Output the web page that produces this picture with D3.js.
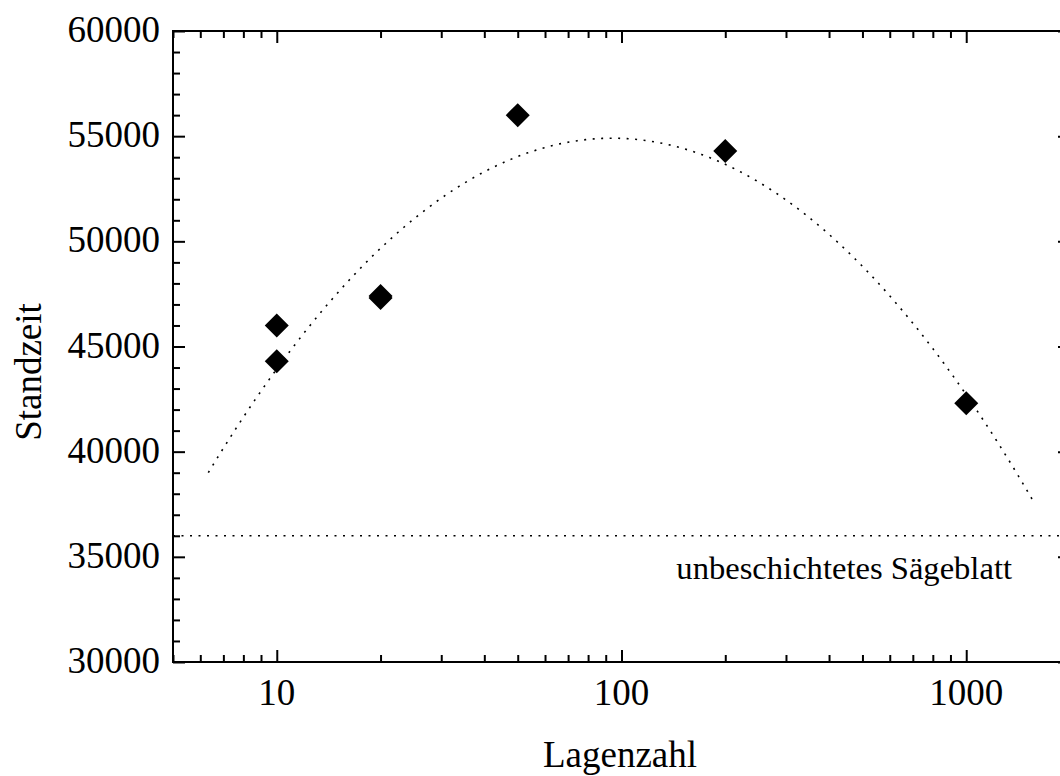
<!DOCTYPE html>
<html>
<head>
<meta charset="utf-8">
<script src="https://cdn.jsdelivr.net/npm/d3@7"></script>
<style>
  html, body { margin: 0; padding: 0; background: #fff; }
  svg { display: block; }
  text { font-family: "Liberation Serif", "Times New Roman", serif; fill: #000; }
</style>
</head>
<body>
<svg id="chart" width="1060" height="776"></svg>
<script>
// Measured tool life (Standzeit) against number of coating layers (Lagenzahl)
const lagenzahl = [10, 10, 20, 20, 50, 200, 1000];
const standzeit = [46000, 44300, 47300, 47400, 56000, 54300, 42300];

// Reference value for the uncoated saw blade
const referenzStandzeit = 36000;
const referenzLabel = "unbeschichtetes Sägeblatt";

// Axis setup
const xDomain = [5, 2000];
const yDomain = [30000, 60000];
const xTickValues = [10, 100, 1000];
const yTickValues = [30000, 35000, 40000, 45000, 50000, 55000, 60000];
const fitRange = [6.33, 1580];

const svg = d3.select("#chart");
const plotLeft = 173, plotRight = 1070, plotTop = 31, plotBottom = 662;

const x = d3.scaleLog().domain(xDomain).range([plotLeft, plotRight]);
const y = d3.scaleLinear().domain(yDomain).range([plotBottom, plotTop]);

// minor ticks: 2..9 within each decade, 1000 steps on y
const xMinor = [];
for (let d = 1; d <= 1000; d *= 10) {
  for (let m = 1; m <= 9; m++) {
    const v = m * d;
    if (v >= xDomain[0] && v <= xDomain[1] && !xTickValues.includes(v)) xMinor.push(v);
  }
}
const yMinor = d3.range(yDomain[0], yDomain[1] + 1, 1000).filter(v => v % 5000 !== 0);

const axisStyle = g => {
  g.selectAll(".domain").remove();
  g.selectAll(".tick line").attr("stroke", "#000").attr("stroke-width", 2);
};

// Major/minor ticks pointing inward on all four sides
svg.append("g").attr("transform", `translate(0,${plotBottom})`)
  .call(d3.axisTop(x).tickValues(xMinor).tickSize(7).tickFormat(""))
  .call(axisStyle);
svg.append("g").attr("transform", `translate(0,${plotBottom})`)
  .call(d3.axisTop(x).tickValues(xTickValues).tickSize(12).tickFormat(""))
  .call(axisStyle);
svg.append("g").attr("transform", `translate(0,${plotTop})`)
  .call(d3.axisBottom(x).tickValues(xMinor).tickSize(7).tickFormat(""))
  .call(axisStyle);
svg.append("g").attr("transform", `translate(0,${plotTop})`)
  .call(d3.axisBottom(x).tickValues(xTickValues).tickSize(12).tickFormat(""))
  .call(axisStyle);
svg.append("g").attr("transform", `translate(${plotLeft},0)`)
  .call(d3.axisRight(y).tickValues(yMinor).tickSize(7).tickFormat(""))
  .call(axisStyle);
svg.append("g").attr("transform", `translate(${plotLeft},0)`)
  .call(d3.axisRight(y).tickValues(yTickValues).tickSize(12).tickFormat(""))
  .call(axisStyle);
svg.append("g").attr("transform", `translate(${plotRight},0)`)
  .call(d3.axisLeft(y).tickValues(yMinor).tickSize(7).tickFormat(""))
  .call(axisStyle);
svg.append("g").attr("transform", `translate(${plotRight},0)`)
  .call(d3.axisLeft(y).tickValues(yTickValues).tickSize(12).tickFormat(""))
  .call(axisStyle);

// Frame
svg.append("rect")
  .attr("x", plotLeft).attr("y", plotTop)
  .attr("width", plotRight - plotLeft).attr("height", plotBottom - plotTop)
  .attr("fill", "none").attr("stroke", "#000").attr("stroke-width", 2);

// Tick labels
svg.append("g").selectAll("text").data(yTickValues).join("text")
  .attr("x", plotLeft - 13).attr("y", d => y(d) + 11)
  .attr("text-anchor", "end").attr("font-size", 37)
  .text(d => d);
svg.append("g").selectAll("text").data(xTickValues).join("text")
  .attr("x", d => x(d)).attr("y", plotBottom + 43)
  .attr("text-anchor", "middle").attr("font-size", 37)
  .text(d => d);

// Axis titles
svg.append("text")
  .attr("x", 620).attr("y", 767)
  .attr("text-anchor", "middle").attr("font-size", 37)
  .text("Lagenzahl");
svg.append("text")
  .attr("transform", `translate(41,372) rotate(-90)`)
  .attr("text-anchor", "middle").attr("font-size", 37)
  .text("Standzeit");

// Uncoated blade reference line and label
svg.append("line")
  .attr("x1", plotLeft).attr("x2", plotRight)
  .attr("y1", y(referenzStandzeit)).attr("y2", y(referenzStandzeit))
  .attr("stroke", "#000").attr("stroke-width", 1.6)
  .attr("stroke-dasharray", "2,6.5");
svg.append("text")
  .attr("x", 1012).attr("y", 579)
  .attr("text-anchor", "end").attr("font-size", 32.6)
  .text(referenzLabel);

// Least-squares quadratic fit in log10(Lagenzahl)
function quadFit(xs, ys) {
  const L = xs.map(v => Math.log10(v));
  const n = L.length;
  const S = k => d3.sum(L, l => Math.pow(l, k));
  const T = k => d3.sum(L, (l, i) => Math.pow(l, k) * ys[i]);
  const A = [[n, S(1), S(2)], [S(1), S(2), S(3)], [S(2), S(3), S(4)]];
  const b = [T(0), T(1), T(2)];
  // Gaussian elimination
  for (let i = 0; i < 3; i++) {
    for (let j = i + 1; j < 3; j++) {
      const f = A[j][i] / A[i][i];
      for (let k = i; k < 3; k++) A[j][k] -= f * A[i][k];
      b[j] -= f * b[i];
    }
  }
  const c = [0, 0, 0];
  for (let i = 2; i >= 0; i--) {
    let s = b[i];
    for (let k = i + 1; k < 3; k++) s -= A[i][k] * c[k];
    c[i] = s / A[i][i];
  }
  return l => c[0] + c[1] * l + c[2] * l * l;
}
const fit = quadFit(lagenzahl, standzeit);
const l0 = Math.log10(fitRange[0]), l1 = Math.log10(fitRange[1]);
const fitPts = d3.range(0, 301).map(i => {
  const l = l0 + (l1 - l0) * i / 300;
  return [Math.pow(10, l), fit(l)];
});
svg.append("path")
  .datum(fitPts)
  .attr("d", d3.line().x(d => x(d[0])).y(d => y(d[1])))
  .attr("fill", "none").attr("stroke", "#000").attr("stroke-width", 1.6)
  .attr("stroke-dasharray", "2,6.5");

// Data points as filled diamonds
const diamond = d3.symbol().type(d3.symbolSquare).size(288);
svg.append("g").selectAll("path")
  .data(lagenzahl.map((v, i) => [v, standzeit[i]]))
  .join("path")
  .attr("d", diamond)
  .attr("transform", d => `translate(${x(d[0])},${y(d[1])}) rotate(45)`)
  .attr("fill", "#000");
</script>
</body>
</html>
